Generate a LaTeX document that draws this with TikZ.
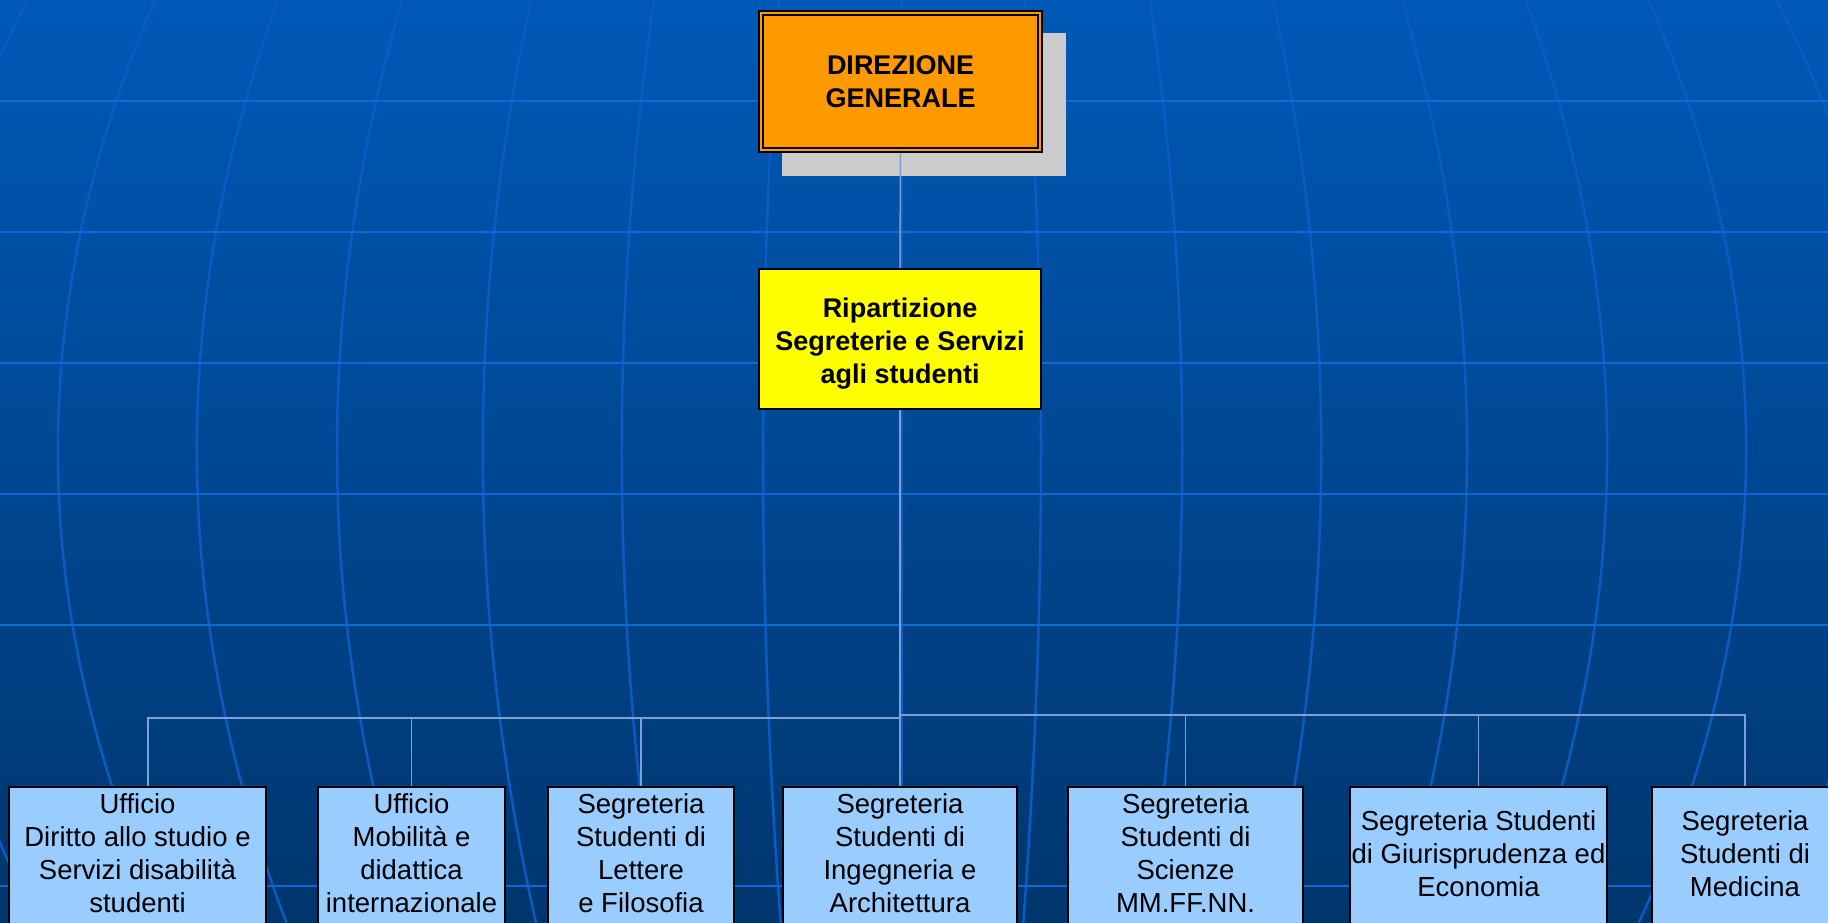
\documentclass[tikz,border=0pt]{standalone}
\usepackage{fontspec}
\setmainfont{Liberation Sans}
\definecolor{bgtop}{RGB}{0,89,184}
\definecolor{bgbot}{RGB}{0,54,110}
\definecolor{latblue}{RGB}{14,104,214}
\definecolor{merblue}{RGB}{12,90,196}
\definecolor{linkblue}{RGB}{125,160,215}
\definecolor{unitfill}{RGB}{153,204,255}
\definecolor{dgfill}{RGB}{255,153,0}
\definecolor{ripfill}{RGB}{255,255,0}
\definecolor{shadowgrey}{RGB}{204,204,204}
\begin{document}
\begin{tikzpicture}[x=1pt,y=-1pt,
  conn/.style={draw=linkblue, line width=1.5pt},
  lat/.style={draw=latblue, line width=2.6pt},
  mer/.style={draw=merblue, line width=2.5pt},
  topbox/.style={draw=black, line width=1.8pt, minimum width=283pt,
    minimum height=141pt, inner sep=0pt, align=center,
    font=\fontsize{27}{33}\selectfont\bfseries},
  unitbox/.style={draw=black, fill=unitfill, line width=2pt,
    minimum height=141pt, inner sep=0pt, align=center,
    font=\fontsize{27.5}{33}\selectfont,
    execute at end node={\rule[-8pt]{0pt}{8pt}}},
]
\useasboundingbox (0,0) rectangle (1828,922);
\clip (0,0) rectangle (1828,922);

% globe background
\shade[top color=bgtop, bottom color=bgbot] (0,0) rectangle (1828,922);
\foreach \k in {-875,-747,-624,-500,-371,-248,-123,0,123,248,371,500,624,747,875}{
  \draw[mer] plot[smooth, domain=-10:932, samples=30, variable=\t]
    ({902+\k*(1.13-0.13*((\t-450)/450)*((\t-450)/450))}, \t);
}
\foreach \yy in {101,232,363,494,625,886}{
  \draw[lat] (0,\yy) -- (1828,\yy);
}

% shadow behind the top box
\fill[shadowgrey] (782,33) rectangle (1066,176);

% top of the hierarchy
\node[topbox, fill=dgfill] (dg) at (900.5,81.5) {DIREZIONE\\GENERALE};
\draw[black, line width=1.8pt] ([shift={(5,5)}]dg.north west) rectangle ([shift={(-5,-5)}]dg.south east);
\node[topbox, fill=ripfill, minimum width=282pt, minimum height=140pt] (rip) at (900,339)
  {\rule{0pt}{29pt}Ripartizione\\Segreterie e Servizi\\agli studenti};

% offices and student secretariats
\node[unitbox, minimum width=257pt] (b1) at (137.5,857.5) {Ufficio\\ Diritto allo studio e\\Servizi disabilità\\studenti};
\node[unitbox, minimum width=187pt] (b2) at (411.5,857.5) {Ufficio\\Mobilità e\\didattica\\internazionale};
\node[unitbox, minimum width=186pt] (b3) at (641,857.5) {Segreteria\\Studenti di\\Lettere\\e Filosofia};
\node[unitbox, minimum width=234pt] (b4) at (900,857.5) {Segreteria\\Studenti di\\Ingegneria e\\Architettura};
\node[unitbox, minimum width=235pt] (b5) at (1185.5,857.5) {Segreteria\\Studenti di\\Scienze\\MM.FF.NN.};
\node[unitbox, minimum width=257pt] (b6) at (1478.5,857.5) {Segreteria Studenti\\di Giurisprudenza ed\\Economia};
\node[unitbox, minimum width=186pt] (b7) at (1745,857.5) {Segreteria\\Studenti di\\Medicina};

% connectors
\coordinate (busL) at (900,718);
\coordinate (busR) at (900,715);
\coordinate (d1) at ([xshift=140pt]b1.north west);
\draw[conn] (dg.south) -- (rip.north);
\draw[conn] (rip.south) -- (b4.north);
\draw[conn] (busL) -| (d1);
\draw[conn] (busL) -| (b2.north);
\draw[conn] (busL) -| (b3.north);
\draw[conn] (busR) -| (b5.north);
\draw[conn] (busR) -| (b6.north);
\draw[conn] (busR) -| (b7.north);
\end{tikzpicture}
\end{document}
